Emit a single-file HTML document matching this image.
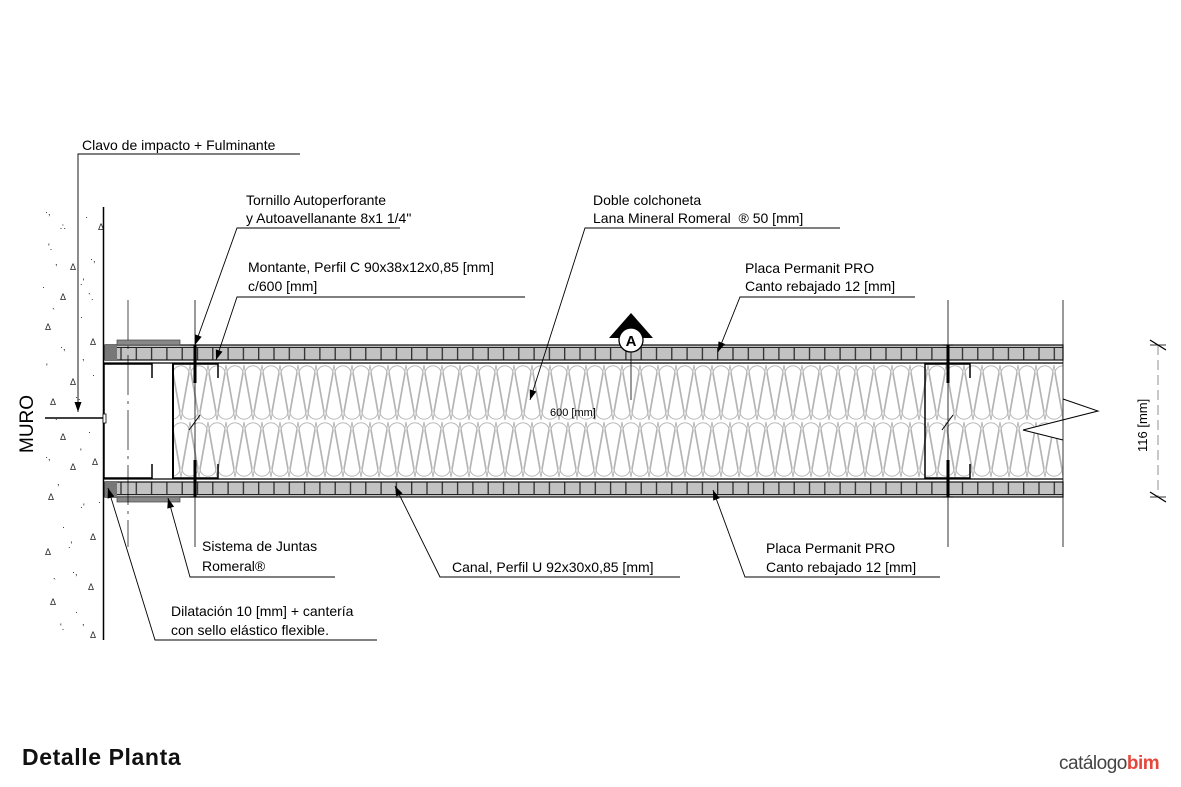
<!DOCTYPE html>
<html><head><meta charset="utf-8"><style>
html,body{margin:0;padding:0;background:#fff;}
svg{display:block;font-family:"Liberation Sans",Arial,sans-serif;}
</style></head><body>
<svg width="1181" height="787" viewBox="0 0 1181 787" xmlns="http://www.w3.org/2000/svg">
<defs>
<pattern id="ins" x="172" y="364" width="18" height="57" patternUnits="userSpaceOnUse">
<path d="M9,56 L0.8,10 A8.2,8.2 0 0 1 17.2,10 Z" fill="none" stroke="#b2b2b2" stroke-width="0.9"/>
<path d="M0,1 L8.2,47 A8.2,8.2 0 0 1 -8.2,47 Z M18,1 L26.2,47 A8.2,8.2 0 0 1 9.8,47 Z" fill="none" stroke="#b2b2b2" stroke-width="0.9"/>
</pattern>
<pattern id="brd" x="105" y="345" width="15.3" height="15" patternUnits="userSpaceOnUse">
<rect x="0" y="0" width="15.3" height="15" fill="#c2c2c2"/>
<line x1="0" y1="2.5" x2="15.3" y2="2.5" stroke="#222" stroke-width="1"/>
<line x1="0.7" y1="2.5" x2="0.7" y2="15" stroke="#222" stroke-width="1.2"/>
</pattern>
<pattern id="brd2" x="105" y="482" width="15.3" height="15" patternUnits="userSpaceOnUse">
<rect x="0" y="0" width="15.3" height="15" fill="#c2c2c2"/>
<line x1="0" y1="12.5" x2="15.3" y2="12.5" stroke="#222" stroke-width="1"/>
<line x1="0.7" y1="0" x2="0.7" y2="12.5" stroke="#222" stroke-width="1.2"/>
</pattern>
<marker id="ar" viewBox="0 0 10 10" refX="10" refY="5" markerWidth="12" markerHeight="10" orient="auto-start-reverse" markerUnits="userSpaceOnUse">
<path d="M0,1.5 L10,5 L0,8.5 Z" fill="#000"/>
</marker>
</defs>

<!-- wall speckles -->
<g fill="#222" font-size="9">
<text x="45" y="215">·,</text><text x="60" y="230">∴</text><text x="85" y="220">·</text><text x="48" y="250">'.</text><text x="70" y="270">Δ</text><text x="90" y="262">·,</text><text x="42" y="290">·</text><text x="60" y="300">Δ</text><text x="88" y="300">`.</text><text x="45" y="330">Δ</text><text x="80" y="320">·</text><text x="60" y="350">·,</text><text x="90" y="345">Δ</text><text x="46" y="370">'</text><text x="70" y="385">Δ</text><text x="92" y="378">·</text><text x="50" y="405">Δ</text><text x="75" y="400">·.</text><text x="60" y="440">Δ</text><text x="88" y="435">·</text><text x="45" y="460">·,</text><text x="70" y="470">Δ</text><text x="92" y="465">Δ</text><text x="48" y="500">Δ</text><text x="80" y="510">·'</text><text x="62" y="530">·</text><text x="90" y="540">Δ</text><text x="45" y="555">Δ</text><text x="72" y="575">·,</text><text x="88" y="590">Δ</text><text x="50" y="605">Δ</text><text x="75" y="615">·</text><text x="90" y="638">Δ</text><text x="60" y="630">'.</text><text x="98" y="230">Δ</text><text x="98" y="505">·</text>
<text x="55" y="265">,</text><text x="80" y="285">.'</text><text x="52" y="315">`</text><text x="82" y="360">,</text><text x="55" y="420">.</text><text x="80" y="455">'</text><text x="57" y="485">,</text><text x="68" y="548">.'</text><text x="53" y="585">`</text><text x="82" y="625">,</text>
</g>
<line x1="103.5" y1="207" x2="103.5" y2="640" stroke="#000" stroke-width="1.5"/>
<text transform="translate(33,453) rotate(-90)" font-size="19" fill="#000">MURO</text>

<!-- insulation -->
<rect x="172" y="364" width="891" height="114" fill="url(#ins)"/>
<!-- break -->
<polygon points="1063,399 1098,411 1023,430 1063,440 1063,478 1181,478 1181,364 1063,364" fill="#fff"/>
<polyline points="1063,399 1098,411 1023,430 1063,440" fill="none" stroke="#000" stroke-width="1"/>

<!-- boards -->
<rect x="105" y="345" width="958" height="15" fill="url(#brd)" stroke="#111" stroke-width="1.2"/>
<rect x="105" y="482" width="958" height="15" fill="url(#brd2)" stroke="#111" stroke-width="1.2"/>
<rect x="105" y="345" width="12" height="15" fill="#777"/>
<rect x="105" y="482" width="12" height="15" fill="#777"/>
<line x1="104" y1="363" x2="1063" y2="363" stroke="#000" stroke-width="1.3"/>
<line x1="104" y1="479" x2="1063" y2="479" stroke="#000" stroke-width="1.3"/>
<rect x="117" y="340" width="63" height="5" fill="#888" stroke="#444" stroke-width="0.7"/>
<rect x="117" y="497" width="63" height="5" fill="#888" stroke="#444" stroke-width="0.7"/>

<!-- left channel -->
<polyline points="152,378 152,364 104,364 104,478 152,478 152,464" fill="none" stroke="#000" stroke-width="1.5"/>
<rect x="172" y="364" width="2" height="114" fill="#000"/>
<polyline points="172,364 218,364 218,378" fill="none" stroke="#000" stroke-width="1.5"/>
<polyline points="172,478 218,478 218,464" fill="none" stroke="#000" stroke-width="1.5"/>
<line x1="128" y1="300" x2="128" y2="547" stroke="#000" stroke-width="0.7" stroke-dasharray="40,6,3,6"/>
<line x1="195" y1="300" x2="195" y2="547" stroke="#000" stroke-width="0.8"/>
<!-- right stud -->
<polyline points="970,378 970,364 925,364 925,478 970,478 970,464" fill="none" stroke="#000" stroke-width="1.5"/>
<line x1="948" y1="300" x2="948" y2="547" stroke="#000" stroke-width="0.8"/>
<line x1="1063" y1="300" x2="1063" y2="547" stroke="#000" stroke-width="0.8"/>

<!-- screws -->
<g stroke="#000" stroke-width="3">
<line x1="195" y1="345" x2="195" y2="383"/><line x1="195" y1="460" x2="195" y2="497"/>
<line x1="948" y1="345" x2="948" y2="383"/><line x1="948" y1="460" x2="948" y2="497"/>
</g>
<g stroke="#000" stroke-width="1">
<line x1="190" y1="345" x2="200" y2="345"/><line x1="190" y1="497" x2="200" y2="497"/>
<line x1="943" y1="345" x2="953" y2="345"/><line x1="943" y1="497" x2="953" y2="497"/>
<line x1="189" y1="430" x2="200" y2="415"/><line x1="942" y1="430" x2="953" y2="415"/>
</g>

<!-- nail -->
<line x1="45" y1="418" x2="103" y2="418" stroke="#000" stroke-width="1.5"/>
<rect x="103" y="414" width="3" height="9" fill="#fff" stroke="#000" stroke-width="0.8"/>

<!-- section marker -->
<polygon points="631,313 609,338 653,338" fill="#000"/>
<circle cx="631" cy="340" r="12" fill="#fff" stroke="#000" stroke-width="1.3"/>
<text x="631" y="346" font-size="15" font-weight="bold" text-anchor="middle">A</text>
<line x1="631" y1="352" x2="631" y2="400" stroke="#000" stroke-width="0.8"/>
<text x="550" y="416" font-size="11">600 [mm]</text>

<!-- dimension -->
<line x1="1158" y1="345" x2="1158" y2="497" stroke="#777" stroke-width="0.8" stroke-dasharray="10,5"/>
<line x1="1150" y1="345" x2="1166" y2="345" stroke="#000" stroke-width="0.8"/>
<line x1="1150" y1="497" x2="1166" y2="497" stroke="#000" stroke-width="0.8"/>
<line x1="1150" y1="340" x2="1166" y2="350" stroke="#000" stroke-width="1.3"/>
<line x1="1150" y1="492" x2="1166" y2="502" stroke="#000" stroke-width="1.3"/>
<text transform="translate(1147,452) rotate(-90)" font-size="13">116 [mm]</text>

<!-- leaders -->
<g stroke="#000" stroke-width="0.9" fill="none">
<polyline points="300,154 78,154 78,412" marker-end="url(#ar)"/>
<polyline points="400,228 237,228 195,345" marker-end="url(#ar)"/>
<polyline points="525,297 237,297 216,360" marker-end="url(#ar)"/>
<polyline points="840,228 585,228 530,400" marker-end="url(#ar)"/>
<polyline points="915,297 740,297 718,352" marker-end="url(#ar)"/>
<polyline points="335,577 190,577 168,498" marker-end="url(#ar)"/>
<polyline points="680,577 440,577 395,486" marker-end="url(#ar)"/>
<polyline points="940,577 745,577 713,490" marker-end="url(#ar)"/>
<polyline points="377,640 155,640 108,488" marker-end="url(#ar)"/>
</g>

<!-- labels -->
<g font-size="14" fill="#000">
<text x="82" y="150">Clavo de impacto + Fulminante</text>
<text x="246" y="205">Tornillo Autoperforante</text>
<text x="246" y="223">y Autoavellanante 8x1 1/4"</text>
<text x="248" y="272">Montante, Perfil C 90x38x12x0,85 [mm]</text>
<text x="248" y="291">c/600 [mm]</text>
<text x="593" y="205">Doble colchoneta</text>
<text x="593" y="223">Lana Mineral Romeral &#160;® 50 [mm]</text>
<text x="745" y="273">Placa Permanit PRO</text>
<text x="745" y="291">Canto rebajado 12 [mm]</text>
<text x="202" y="551">Sistema de Juntas</text>
<text x="202" y="571">Romeral®</text>
<text x="452" y="572">Canal, Perfil U 92x30x0,85 [mm]</text>
<text x="766" y="553">Placa Permanit PRO</text>
<text x="766" y="572">Canto rebajado 12 [mm]</text>
<text x="171" y="616">Dilatación 10 [mm] + cantería</text>
<text x="171" y="635">con sello elástico flexible.</text>
</g>

<text x="22" y="765" font-size="23" font-weight="bold" fill="#111" letter-spacing="0.6">Detalle Planta</text>
<text x="1059" y="769" font-size="19" fill="#444" letter-spacing="-0.5">catálogo<tspan fill="#e5483a" font-weight="bold">bim</tspan></text>
</svg>
</body></html>
